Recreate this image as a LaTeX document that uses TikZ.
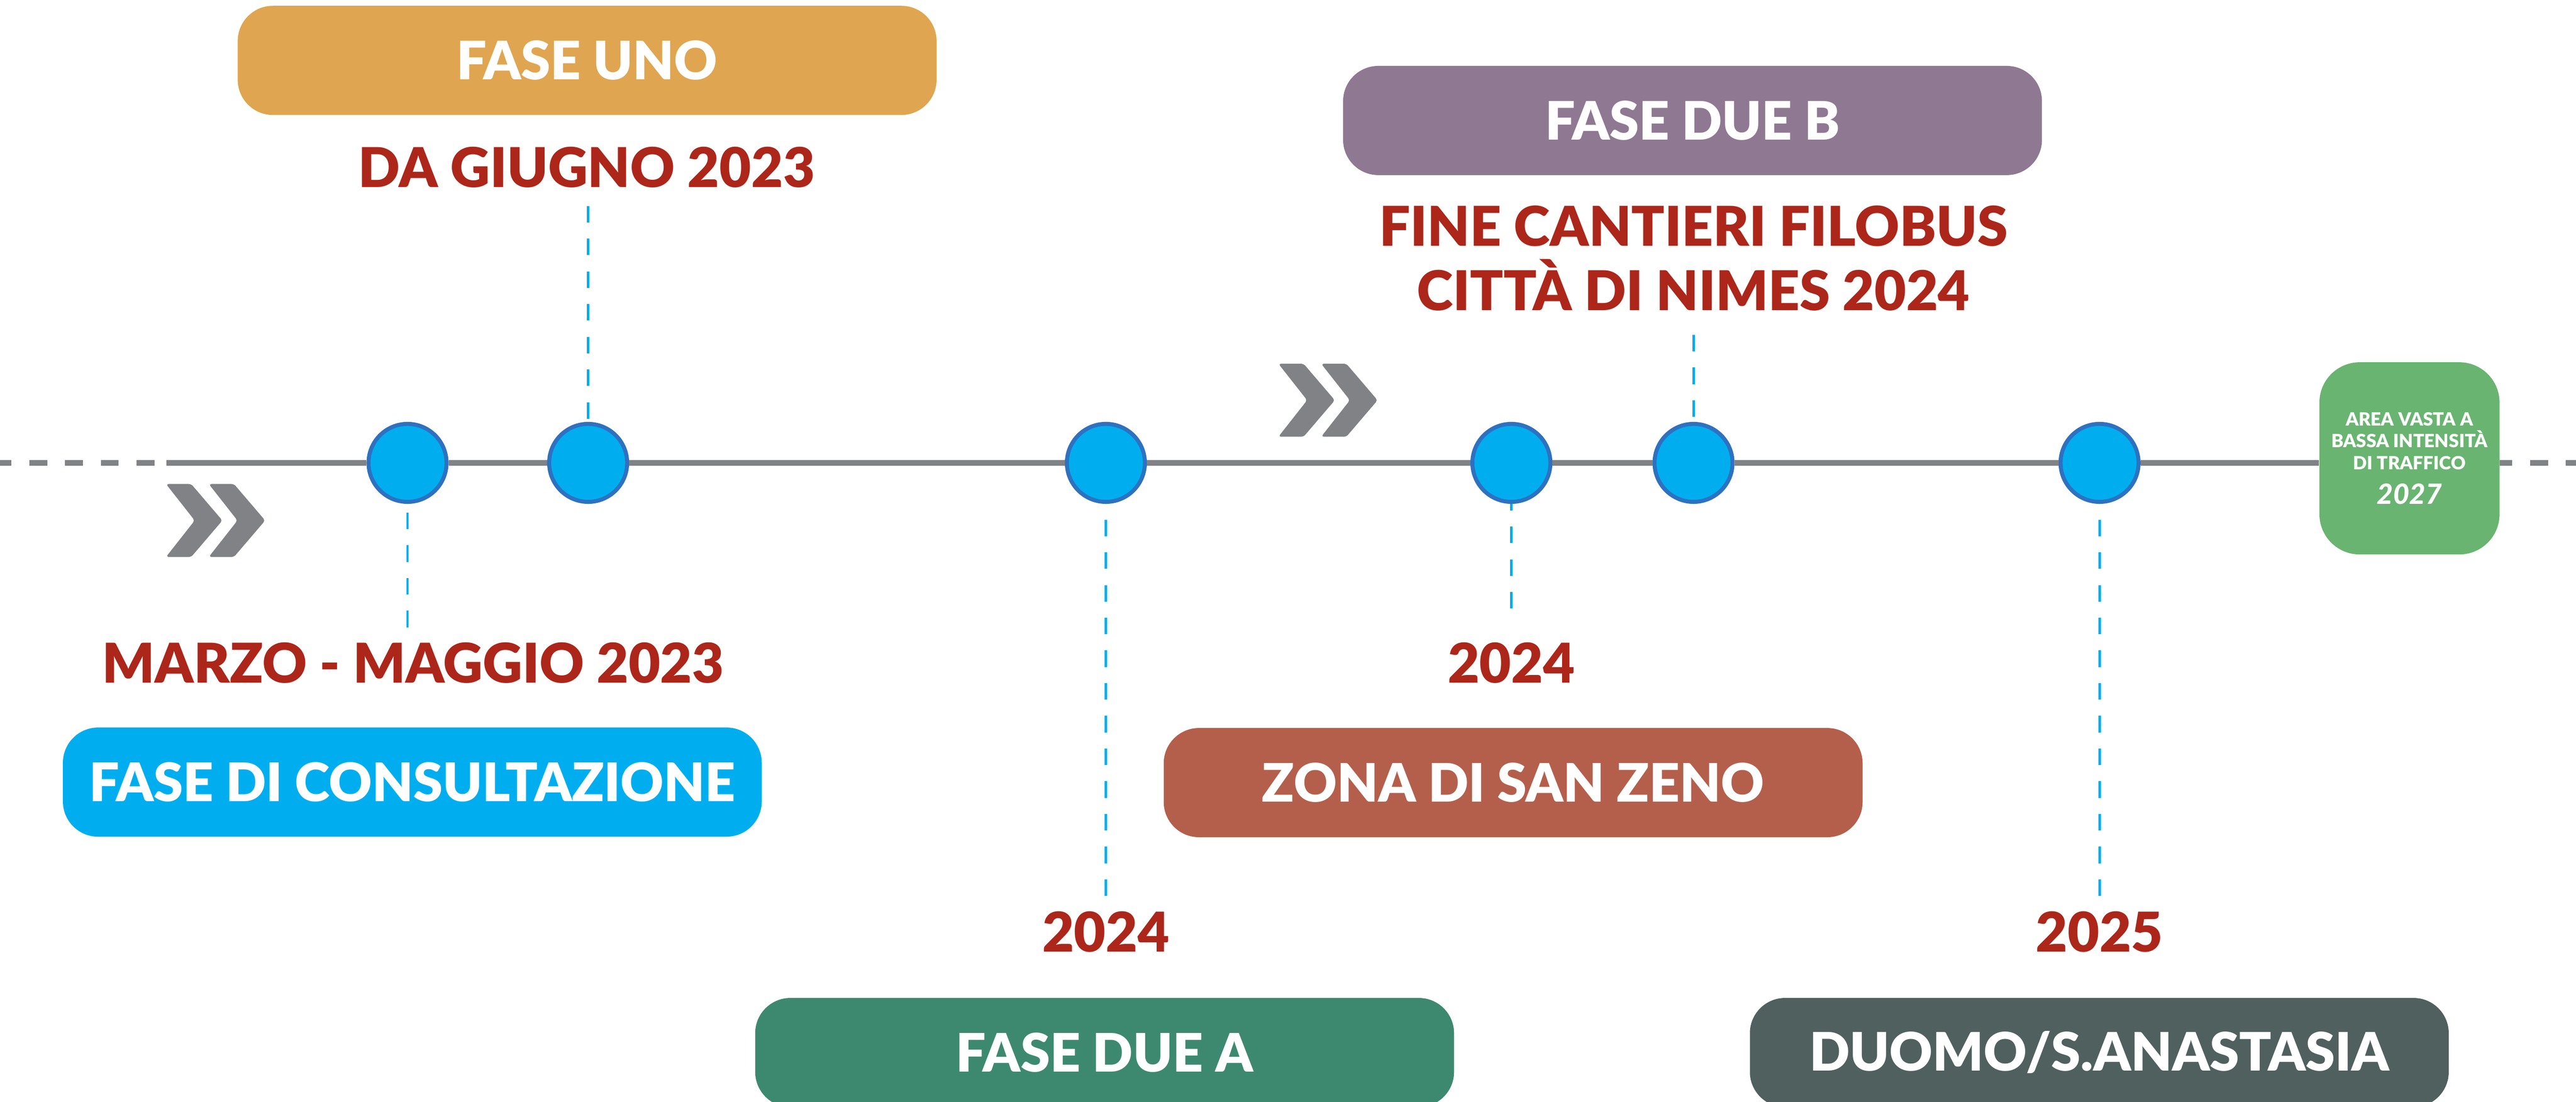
\documentclass[tikz,border=0pt]{standalone}
\usepackage{fontspec}
\newfontfamily\lblack{Lato Black}[ItalicFont={Lato Black Italic}]

\definecolor{unoorange}{RGB}{224,165,80}
\definecolor{duebpurple}{RGB}{143,120,145}
\definecolor{dueagreen}{RGB}{61,137,112}
\definecolor{zenored}{RGB}{180,95,76}
\definecolor{duomoslate}{RGB}{79,96,94}
\definecolor{areagreen}{RGB}{105,180,112}
\definecolor{datered}{RGB}{172,38,26}
\definecolor{dotfill}{RGB}{0,174,239}
\definecolor{dotedge}{RGB}{46,113,192}
\definecolor{axisgray}{RGB}{128,130,133}

\tikzset{
  phase/.style={rounded corners=0.7cm, minimum width=13.89cm, minimum height=2.17cm,
    text=white, font=\lblack\fontsize{30}{36}\selectfont},
  when/.style={text=datered, inner sep=0pt, align=center,
    font=\lblack\fontsize{31}{36.3}\selectfont},
  dot/.style={circle, draw=dotedge, line width=0.08cm, fill=dotfill,
    minimum size=1.55cm, inner sep=0pt},
  tick/.style={draw=dotfill, line width=0.05cm, dash pattern=on 0.33cm off 0.32cm,
    shorten <=0.3cm},
  axis/.style={draw=axisgray, line width=0.11cm},
  gap/.style={dash pattern=on 0.355cm off 0.355cm}
}

\begin{document}
\begin{tikzpicture}
            \useasboundingbox (0,0) rectangle (51.2,-21.9);

            \node[phase, fill=dotfill]    (F1) at (8.195,-15.545) {FASE DI CONSULTAZIONE};
            \node[phase, fill=unoorange]  (F2) at (11.67,-1.20)   {FASE UNO};
            \node[phase, fill=dueagreen]  (F3) at (21.955,-20.92) {FASE DUE A};
            \node[phase, fill=zenored]    (F4) at (30.075,-15.555) {ZONA DI SAN ZENO};
            \node[phase, fill=duebpurple] (F5) at (33.64,-2.395)  {FASE DUE B};
            \node[phase, fill=duomoslate] (F6) at (41.725,-20.92) {DUOMO/S.ANASTASIA};

            \node[when] (D1) at (8.21,-13.18)  {MARZO - MAGGIO 2023};
            \node[when] (D2) at (11.66,-3.33)  {DA GIUGNO 2023};
            \node[when] (D3) at (21.98,-18.52) {2024};
            \node[when] (D4) at (30.04,-13.18) {2024};
            \node[when] (D5) at (33.66,-5.135) {FINE CANTIERI FILOBUS\\CITTÀ DI NIMES 2024};
            \node[when] (D6) at (41.73,-18.52) {2025};

            \node[fill=areagreen, rounded corners=0.8cm, minimum width=3.58cm, minimum height=3.82cm,
                  text=white, align=center, font=\lblack\fontsize{10.3}{12.4}\selectfont]
                  (G) at (47.89,-9.11)
                  {AREA VASTA A\\BASSA INTENSITÀ\\DI TRAFFICO\\[0.25cm]{\itshape\fontsize{15.8}{19}\selectfont 2027}};

            \coordinate (T0) at (0,-9.2);
            \coordinate (T1) at (3.07,-9.2);
            \coordinate (T2) at (3.31,-9.2);
            \coordinate (T3) at (51.2,-9.2);

            \node[dot] (C1) at (8.10,-9.2) {};
            \node[dot] (C2) at (11.69,-9.2) {};
            \node[dot] (C3) at (21.98,-9.2) {};
            \node[dot] (C4) at (30.04,-9.2) {};
            \node[dot] (C5) at (33.66,-9.2) {};
            \node[dot] (C6) at (41.73,-9.2) {};

            \draw[axis, gap] (T1) -- (T0);
            \draw[axis] (T2) -- (C1) -- (C2) -- (C3) -- (C4) -- (C5) -- (C6) -- (C6 -| G.west);
            \draw[axis, gap, dash phase=0.11cm] (C6 -| G.east) -- (T3);

            \draw[tick] (C1 |- D1.north) -- (C1);
            \draw[tick, shorten <=0.35cm] (C2 |- D2.south) -- (C2);
            \draw[tick] (C3 |- D3.north) -- (C3);
            \draw[tick, shorten <=0.67cm] (C4 |- D4.north) -- (C4);
            \draw[tick, shorten <=0.47cm] (C5 |- D5.south) -- (C5);
            \draw[tick] (C6 |- D6.north) -- (C6);

            \foreach \x/\y in {3.30/-9.62, 25.41/-7.23}
                \foreach \s in {0,0.85}
                    \fill[axisgray, rounded corners=0.05cm, shift={(\x+\s,\y)}]
                        (0,0) -- (0.50,0) -- (1.12,-0.725) -- (0.50,-1.45) -- (0,-1.45) -- (0.57,-0.725) -- cycle;

        \end{tikzpicture}
\end{document}
